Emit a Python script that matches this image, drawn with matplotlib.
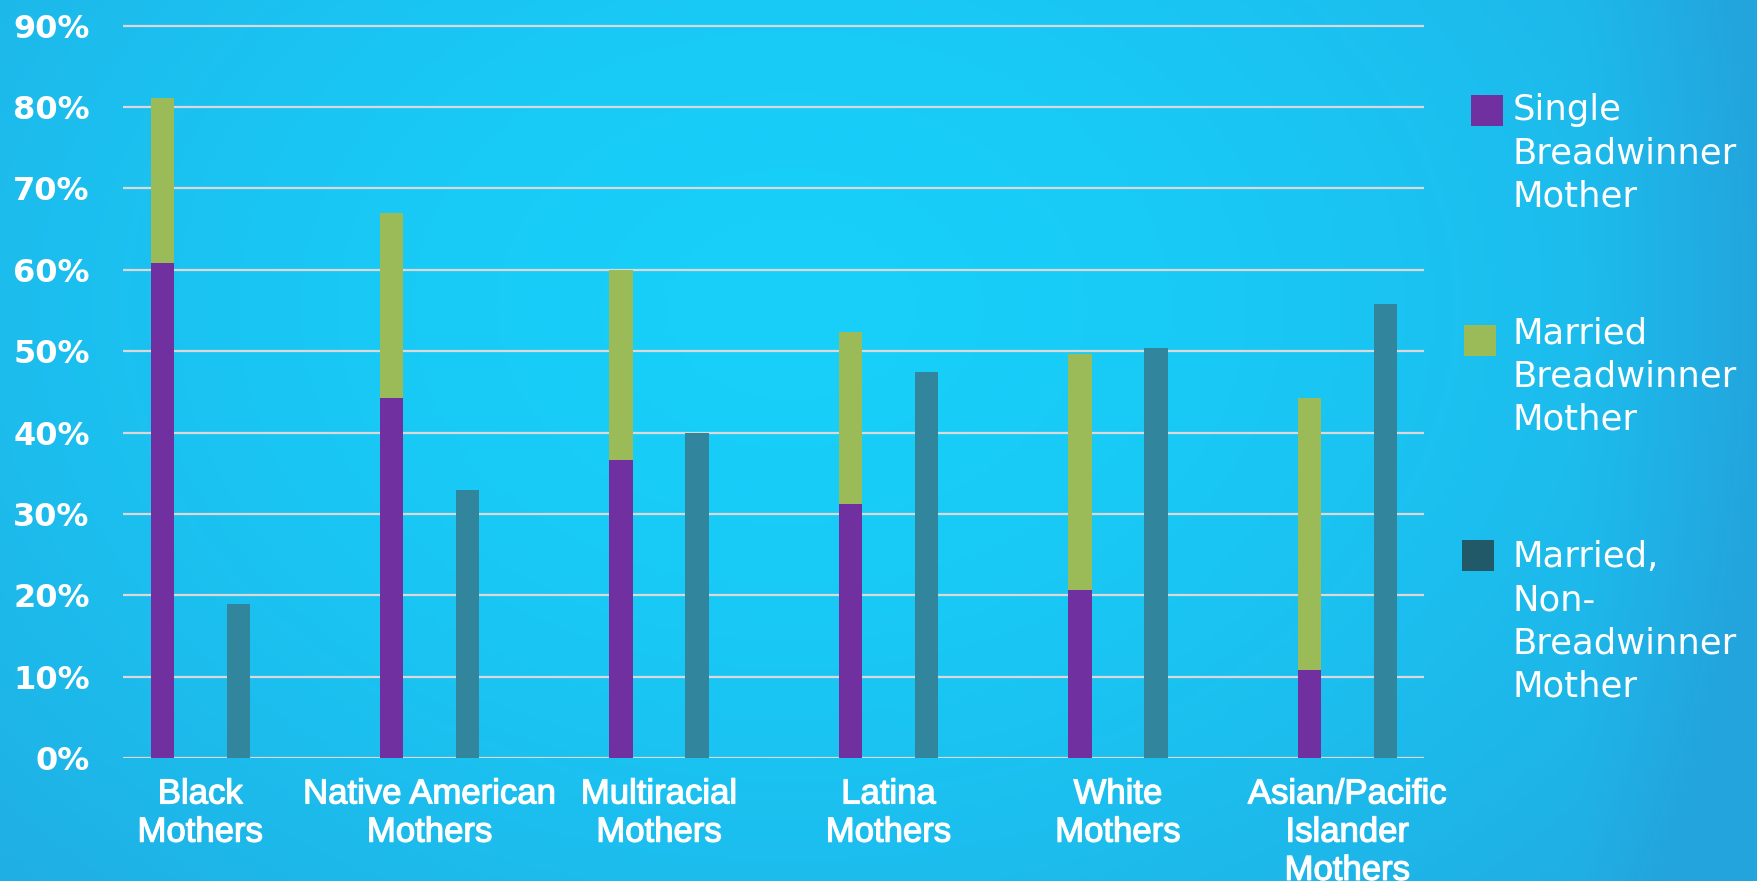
import numpy as np
import matplotlib
matplotlib.use("Agg")
import matplotlib.pyplot as plt
from matplotlib.patches import Rectangle
from matplotlib.colors import to_rgb
import matplotlib.patheffects as pe

# ---------------- data ----------------
categories = ["Black\nMothers", "Native American\nMothers", "Multiracial\nMothers",
              "Latina\nMothers", "White\nMothers", "Asian/Pacific\nIslander\nMothers"]
single_bw = [60.8, 44.2, 36.6, 31.2, 20.6, 10.8]
married_bw = [20.3, 22.8, 23.4, 21.2, 29.1, 33.4]
married_non_bw = [18.9, 32.9, 40.0, 47.4, 50.4, 55.8]
yticks = [0, 10, 20, 30, 40, 50, 60, 70, 80, 90]
ytick_labels = [f"{v}%" for v in yticks]
legend_labels = ["Single\nBreadwinner\nMother",
                 "Married\nBreadwinner\nMother",
                 "Married,\nNon-\nBreadwinner\nMother"]

# ---------------- style ----------------
C_PURPLE = "#7030A0"
C_GREEN = "#9BBB59"
C_TEAL = "#31859C"
C_TEAL_LEG = "#215968"
GRID = "#D9D9D9"

W, H = 1758, 881
fig = plt.figure(figsize=(W / 100, H / 100), dpi=100)

# background gradient
bg = fig.add_axes([0, 0, 1, 1], zorder=-10)
yy, xx = np.mgrid[0:1:220j, 0:1:440j]
d = np.sqrt(((xx - 0.45) / 0.75) ** 2 + ((yy - 0.35) / 1.1) ** 2)
t = np.clip(d, 0, 1) ** 1.6
t = np.clip(t + 0.35 * np.clip((xx - 0.9) / 0.1, 0, 1), 0, 1)
bright = np.array(to_rgb("#17D0FA"))
dark = np.array(to_rgb("#23A4DD"))
img = bright[None, None, :] * (1 - t[..., None]) + dark[None, None, :] * t[..., None]
bg.imshow(img, aspect="auto", extent=[0, 1, 0, 1], origin="upper")
bg.set_axis_off()

# main axes
left, right = 123 / W, 1424 / W
bottom = (H - 758) / H
top_px = 758 - 90.5 * 8.136
ax = fig.add_axes([left, bottom, right - left, (758 - top_px) / H])
ax.patch.set_alpha(0)

x = np.arange(len(categories))
off = 0.1656
bw = 0.1016
ax.bar(x - off, single_bw, bw, color=C_PURPLE, zorder=3)
ax.bar(x - off, married_bw, bw, bottom=single_bw, color=C_GREEN, zorder=3)
ax.bar(x + off, married_non_bw, bw, color=C_TEAL, zorder=3)

ax.set_xlim(-0.337, 5.334)
ax.set_ylim(0, 90.5)
ax.set_yticks(yticks)
ax.set_yticklabels(ytick_labels, fontsize=23, fontweight="bold",
                   color="white", family="DejaVu Sans")
ax.yaxis.grid(True, color=GRID, linewidth=1.6, zorder=0)
ax.set_axisbelow(True)
ax.set_xticks(x)
ax.set_xticklabels(categories, fontsize=25, color="white",
                   family=["Liberation Sans", "DejaVu Sans"], linespacing=1.2)
for lab in ax.get_xticklabels():
    lab.set_path_effects([pe.withStroke(linewidth=0.9, foreground="white")])
ax.tick_params(axis="y", length=0, pad=24)
ax.tick_params(axis="x", length=0, pad=14)
for s in ax.spines.values():
    s.set_visible(False)

# legend (manual, to match layout)
swatches = [(1471, 95, C_PURPLE), (1464, 325, C_GREEN), (1462, 540, C_TEAL_LEG)]
centers = [153.0, 376.8, 622.0]
for (sx, sy, col), lab, cy in zip(swatches, legend_labels, centers):
    fig.patches.append(Rectangle((sx / W, 1 - (sy + 31) / H), 32 / W, 31 / H,
                                 transform=fig.transFigure, facecolor=col,
                                 edgecolor="none"))
    fig.text(1513 / W, 1 - cy / H, lab, fontsize=25.5, color="white",
             family="DejaVu Sans", va="center", ha="left", linespacing=1.34)

fig.savefig("out.png", dpi=100)
